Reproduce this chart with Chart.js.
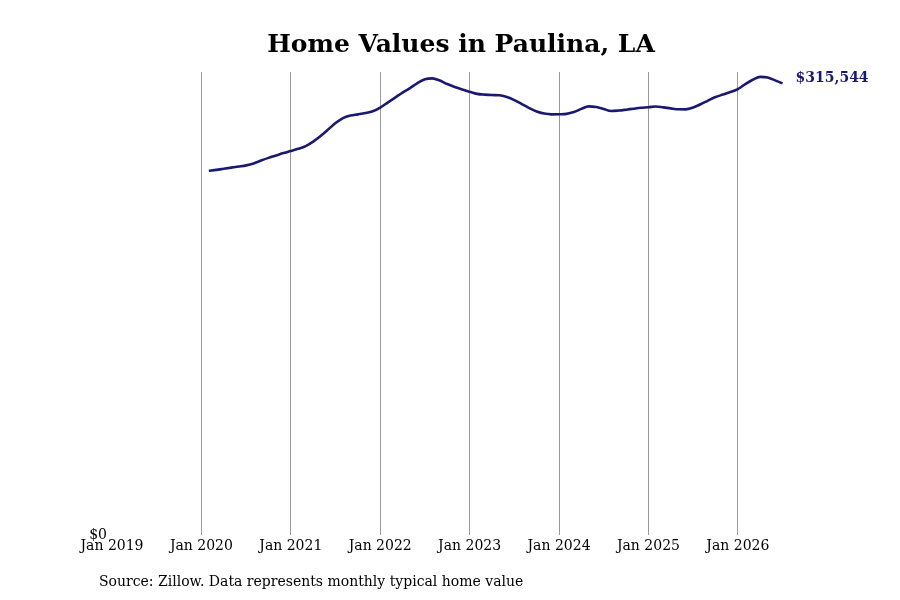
<!DOCTYPE html>
<html>
<head>
<meta charset="utf-8">
<script src="https://cdn.jsdelivr.net/npm/chart.js@4.4.1/dist/chart.umd.min.js"></script>
<style>
  html, body { margin: 0; padding: 0; background: #ffffff; }
  #wrap { width: 900px; height: 600px; position: relative; }
</style>
</head>
<body>
<div id="wrap"><canvas id="c" width="900" height="600"></canvas></div>
<script>
// ---- Data ----
const chartTitle = "Home Values in Paulina, LA";
const sourceNote = "Source: Zillow. Data represents monthly typical home value";
const axisStartYear = 2019;
const firstDataYear = 2020;   // first value: end of Jan 2020
const firstDataMonth = 1;
const homeValues = [
  254500, 255130, 255900, 256670, 257440, 258270, 259600, 261630, 263510, 265120, 266870, 268260,
  269800, 271760, 274900, 278740, 283280, 287820, 291320, 293060, 293900, 294810, 296070, 298650,
  302140, 305640, 309130, 312270, 315770, 318420, 319050, 317510, 315070, 312970, 311230, 309690,
  308220, 307660, 307380, 307240, 305990, 303890, 301100, 298300, 295860, 294460, 293900, 293970,
  294250, 295510, 297750, 299490, 299000, 297600, 296210, 296560, 297180, 297880, 298510, 298860,
  299420, 298790, 298090, 297460, 297390, 298650, 300950, 303540, 305990, 307730, 309480, 311580,
  315070, 318070, 320100, 319680, 317650, 315544
];
const xTickLabels = ["Jan 2019","Jan 2020","Jan 2021","Jan 2022","Jan 2023","Jan 2024","Jan 2025","Jan 2026"];
const yTickValues = [0];

// months since Jan 2019 (end-of-month dates)
const firstIndex = (firstDataYear - axisStartYear) * 12 + firstDataMonth;
const points = homeValues.map((v, i) => ({ x: firstIndex + i, y: v }));

const lineColor = '#191970';
Chart.defaults.font.family = "'DejaVu Serif', serif";
Chart.defaults.color = '#000';

const textPlugin = {
  id: 'texts',
  afterDraw(chart) {
    const ctx = chart.ctx;
    ctx.save();
    ctx.fillStyle = '#000';
    ctx.textAlign = 'center';
    ctx.textBaseline = 'alphabetic';
    ctx.font = "bold 25px 'DejaVu Serif', serif";
    ctx.fillText(chartTitle, 461, 52);
    ctx.textAlign = 'left';
    ctx.textBaseline = 'middle';
    ctx.font = "14px 'DejaVu Serif', serif";
    ctx.fillText(sourceNote, 99, 582);
    // end label
    const meta = chart.getDatasetMeta(0);
    const last = meta.data[meta.data.length - 1];
    const lastVal = homeValues[homeValues.length - 1];
    ctx.fillStyle = lineColor;
    ctx.font = "bold 14px 'DejaVu Serif', serif";
    ctx.fillText('$' + lastVal.toLocaleString('en-US'), last.x + 13, last.y - 5);
    ctx.restore();
  }
};

new Chart(document.getElementById('c'), {
  type: 'line',
  data: {
    datasets: [{
      data: points,
      borderColor: lineColor,
      borderWidth: 2.6,
      pointRadius: 0,
      tension: 0.4,
      cubicInterpolationMode: 'monotone',
      fill: false
    }]
  },
  options: {
    responsive: false,
    animation: false,
    layout: { padding: { left: 82, right: 110, top: 72, bottom: 40 } },
    plugins: { legend: { display: false }, tooltip: { enabled: false }, title: { display: false } },
    scales: {
      x: {
        type: 'linear',
        min: 0,
        max: 91,
        afterFit(scale) { scale.height = 25; },
        afterBuildTicks(scale) { scale.ticks = xTickLabels.map((_, i) => ({ value: i * 12 })); },
        ticks: {
          padding: 3,
          maxRotation: 0,
          autoSkip: false,
          font: { size: 14 },
          callback: (v) => xTickLabels[Math.round(v / 12)]
        },
        grid: {
          drawTicks: false,
          color: (c) => (c.tick && c.tick.value === 0) ? 'rgba(0,0,0,0)' : '#9a9a9a',
          lineWidth: 1
        },
        border: { display: false }
      },
      y: {
        min: 0,
        max: 323500,
        afterFit(scale) { scale.width = 30; },
        afterBuildTicks(scale) { scale.ticks = yTickValues.map(v => ({ value: v })); },
        ticks: {
          padding: 5,
          font: { size: 14 },
          callback: (v) => '$' + v.toLocaleString('en-US')
        },
        grid: { display: false, drawTicks: false },
        border: { display: false }
      }
    }
  },
  plugins: [textPlugin]
});
</script>
</body>
</html>
